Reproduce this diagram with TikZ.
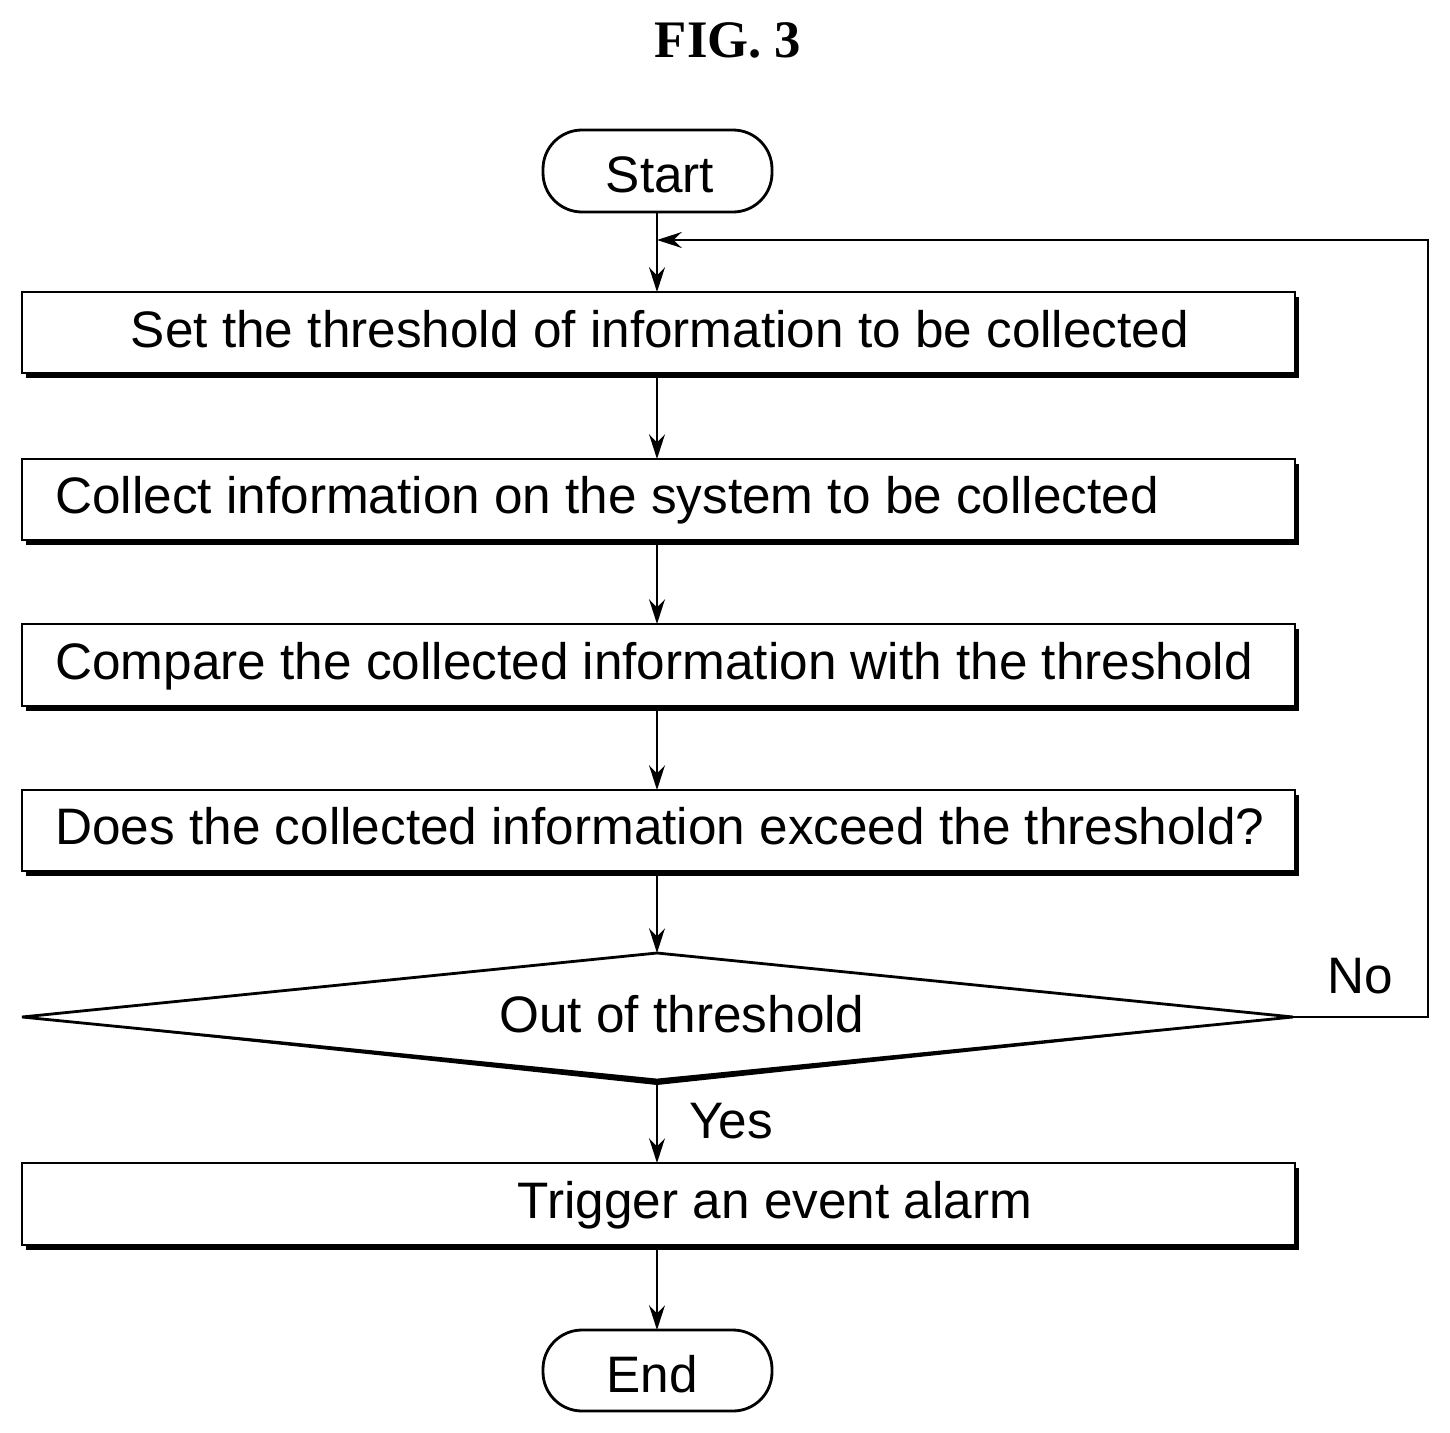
\documentclass[tikz,border=0pt]{standalone}
\usepackage{fontspec}
\setmainfont{Liberation Serif}
\newfontfamily\arialf{Liberation Sans}
\usetikzlibrary{arrows.meta}
\begin{document}
\begin{tikzpicture}[x=0.02cm,y=-0.02cm,
  txt/.style={font=\arialf\fontsize{29.2}{34}\selectfont,inner sep=0pt,anchor=base},
  bx/.style={draw=black,line width=1.6pt,fill=white},
  arr/.style={line width=1.4pt,-{Stealth[length=14pt,width=9pt]}}]
\useasboundingbox (0,0) rectangle (1450,1433);
\node[font=\bfseries\fontsize{30}{34}\selectfont] (title) at (728,40) {FIG. 3};
% terminals
\draw[bx,rounded corners=0.78cm] (543,130) rectangle (772,212);
\node[txt] (start) at (660,192) {Start};
\coordinate (startb) at (657,212);
\draw[bx,rounded corners=0.78cm] (543,1330) rectangle (772,1411);
\node[txt] (end) at (652,1392) {End};
\coordinate (endt) at (657,1330);
% boxes with shadow
\foreach \t/\b/\n in {292/373/b1,459/540/b2,624/706/b3,790/871/b4,1163/1245/b5}{
  \fill (26,\t+5) rectangle (1299,\b+5);
  \draw[bx] (22,\t) rectangle (1295,\b);
  \coordinate (\n t) at (657,\t);
  \coordinate (\n b) at (657,\b);
}
\node[txt] (t1) at (660,347) {Set the threshold of information to be collected};
\node[txt,anchor=base west] (t2) at (55,513) {Collect information on the system to be collected};
\node[txt,anchor=base west] (t3) at (55,679) {Compare the collected information with the threshold};
\node[txt,anchor=base west] (t4) at (55,844) {Does the collected information exceed the threshold?};
\node[txt] (t5) at (775,1218) {Trigger an event alarm};
% diamond
\fill (22,1017) -- (657,953) -- (1293,1017) -- (657,1085) -- cycle;
\draw[bx] (22,1017) -- (657,953) -- (1293,1017) -- (657,1080) -- cycle;
\coordinate (dt) at (657,953);
\coordinate (db) at (657,1083);
\coordinate (dr) at (1293,1017);
\node[txt] (dtxt) at (682,1032) {Out of threshold};
\node[txt] (no) at (1360,993) {No};
\node[txt] (yes) at (731,1138) {Yes};
% arrows
\draw[arr] (startb) -- (b1t);
\draw[arr] (b1b) -- (b2t);
\draw[arr] (b2b) -- (b3t);
\draw[arr] (b3b) -- (b4t);
\draw[arr] (b4b) -- (dt);
\draw[arr] (db) -- (b5t);
\draw[arr] (b5b) -- (endt);
\coordinate (lp) at (657,240);
\draw[arr] (dr) -- (1428,1017) -- (1428,240) -- (lp);
\end{tikzpicture}
\end{document}
